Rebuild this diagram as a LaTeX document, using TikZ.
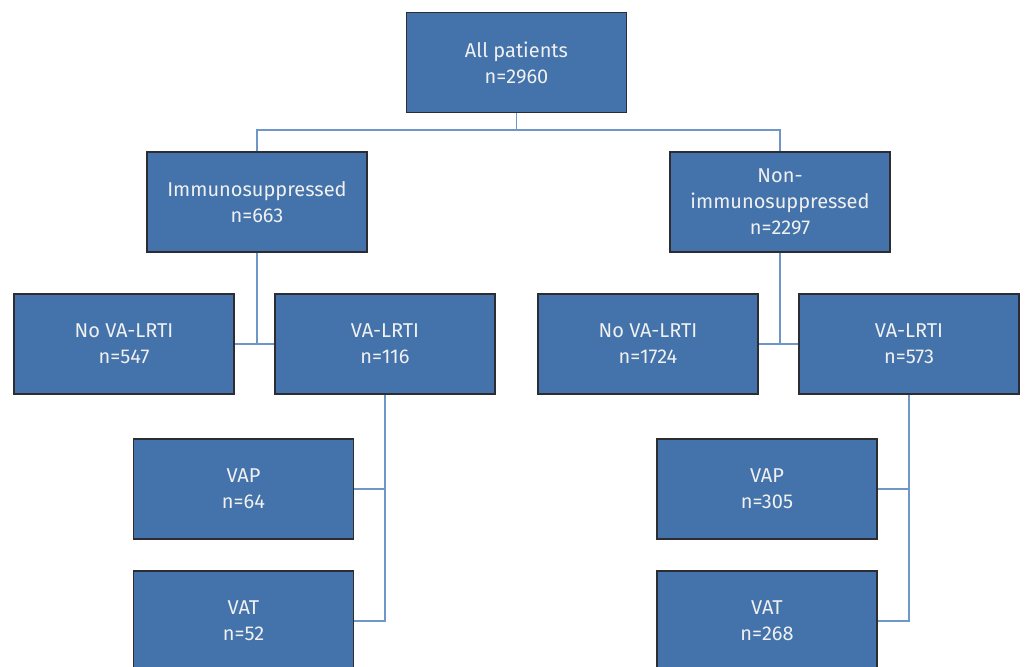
\documentclass[tikz,border=0pt]{standalone}
\usepackage{fontspec}
\setmainfont{Fira Sans}
\usepackage{xcolor}
\usepackage{tikz}
\definecolor{boxblue}{HTML}{4373AA}
\definecolor{boxedge}{HTML}{2B2D33}
\definecolor{linkblue}{HTML}{6F96C8}

\begin{document}
\begin{tikzpicture}[x=0.5pt,y=-0.5pt,
  grp/.style={draw=boxedge,line width=0.75pt,fill=boxblue,text=white!94!black,
    minimum width=110pt,minimum height=50pt,align=center,inner sep=0pt,
    font=\fontsize{10}{13}\selectfont},
  link/.style={draw=linkblue,line width=0.75pt}]
			\useasboundingbox (0,0) rectangle (1025,666);
			\clip (0,0) rectangle (1025,666);
			\node[grp] (all) at (516.5,62.5) {All patients\\n=2960};
			\node[grp] (imm) at (257,202) {Immunosuppressed\\n=663};
			\node[grp] (non) at (780,202) {Non-\\immunosuppressed\\n=2297};
			\node[grp] (noL) at (124,344) {No VA-LRTI\\n=547};
			\node[grp] (vaL) at (385,344) {VA-LRTI\\n=116};
			\node[grp] (noR) at (648,344) {No VA-LRTI\\n=1724};
			\node[grp] (vaR) at (909,344) {VA-LRTI\\n=573};
			\node[grp] (vapL) at (243.5,489) {VAP\\n=64};
			\node[grp] (vatL) at (243.5,621) {VAT\\n=52};
			\node[grp] (vapR) at (767,489) {VAP\\n=305};
			\node[grp] (vatR) at (767,621) {VAT\\n=268};
			% top split
			\coordinate (top) at (516.5,130);
			\draw[link] (all.south) -- (top);
			\draw[link] (imm.north) |- (top) -| (non.north);
			% second level
			\draw[link] (imm.south) -- (imm.south |- noL.east);
			\draw[link] (noL.east) -- (vaL.west);
			\draw[link] (non.south) -- (non.south |- noR.east);
			\draw[link] (noR.east) -- (vaR.west);
			% third level
			\draw[link] (vaL.south) |- (vatL.east);
			\draw[link] (vapL.east) -- (vapL.east -| vaL.south);
			\draw[link] (vaR.south) |- (vatR.east);
			\draw[link] (vapR.east) -- (vapR.east -| vaR.south);
		\end{tikzpicture}
\end{document}
